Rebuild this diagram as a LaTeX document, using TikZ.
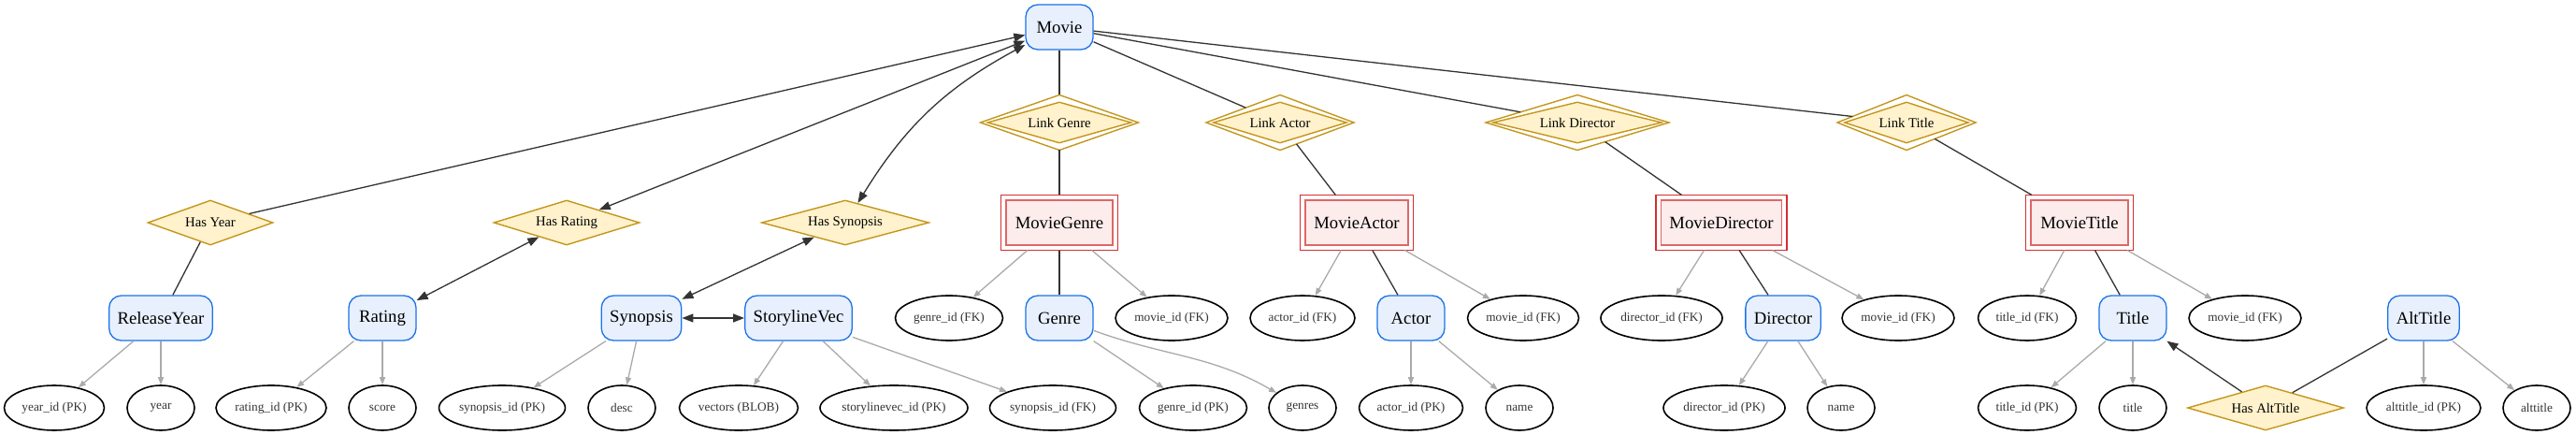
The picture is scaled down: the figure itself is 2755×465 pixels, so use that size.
\documentclass[tikz,border=0pt]{standalone}
\usepackage{fontspec}
\setmainfont{Liberation Serif}
\usetikzlibrary{shapes.geometric,arrows.meta,calc}
\definecolor{entfill}{HTML}{E8F0FE}
\definecolor{entdraw}{HTML}{1A73E8}
\definecolor{weakfill}{HTML}{FDECEC}
\definecolor{weakout}{HTML}{D32F2F}
\definecolor{weakin}{HTML}{E06666}
\definecolor{relfill}{HTML}{FFF2CC}
\definecolor{reldraw}{HTML}{C4961A}
\definecolor{darkedge}{HTML}{333333}
\definecolor{grayedge}{HTML}{AAAAAA}
\definecolor{attrtext}{HTML}{333333}
\tikzset{
  entity/.style={draw=entdraw, fill=entfill, line width=1.3pt, rounded corners=13pt,
    minimum width=72pt, minimum height=48pt, inner xsep=9pt, inner ysep=0pt,
    font=\fontsize{18.7}{22}\selectfont},
  weak/.style={draw=weakin, fill=weakfill, line width=1.6pt, minimum height=48pt,
    inner sep=0pt, outer sep=5.5pt, font=\fontsize{18.7}{22}\selectfont},
  weakouter/.style={draw=weakout, line width=1.4pt},
  attr/.style={ellipse, draw=black, line width=1.6pt, fill=white, minimum height=48pt,
    inner sep=0pt, text=attrtext, font=\fontsize{13.3}{15}\selectfont},
  rel/.style={diamond, aspect=3.2, draw=reldraw, fill=relfill, line width=1.4pt, minimum height=48pt,
    inner sep=0pt, font=\fontsize{14.7}{17}\selectfont},
  dbl/.style={rel, outer sep=5.5pt},
  dblouter/.style={draw=reldraw, line width=1.4pt},
  link/.style={draw=darkedge, line width=1.3pt},
  arr/.style={link, -{Triangle[length=12pt,width=9pt]}},
  barr/.style={link, {Triangle[length=12pt,width=9pt]}-{Triangle[length=12pt,width=9pt]}},
  gattr/.style={draw=grayedge, line width=1.3pt, -{Triangle[length=8pt,width=6pt]}},
}
\begin{document}
\begin{tikzpicture}[x=1pt,y=-1pt]
\useasboundingbox (0,0) rectangle (2755,465);
% top
\node[entity] (movie) at (1133,29) {Movie};
% link diamonds
\node[dbl, minimum width=158pt] (lgenre) at (1133,131) {Link Genre};
\node[dbl, minimum width=147pt] (lactor) at (1369,131) {Link Actor};
\node[dbl, minimum width=185pt] (ldir) at (1687,131) {Link Director};
\node[dbl, minimum width=137pt] (ltitle) at (2039,131) {Link Title};
\foreach \n in {lgenre,lactor,ldir,ltitle}
  \draw[dblouter] (\n.north) -- (\n.east) -- (\n.south) -- (\n.west) -- cycle;
% relationship diamonds
\node[rel, minimum width=134pt] (hasyear) at (225,238) {Has Year};
\node[rel, minimum width=156pt] (hasrating) at (606,238) {Has Rating};
\node[rel, minimum width=179pt] (hassyn) at (904,238) {Has Synopsis};
% weak entities
\node[weak, minimum width=114pt] (mgenre) at (1133,238) {MovieGenre};
\node[weak, minimum width=110pt] (mactor) at (1451,238) {MovieActor};
\node[weak, minimum width=129pt] (mdir) at (1841,238) {MovieDirector};
\node[weak, minimum width=104pt] (mtitle) at (2224,238) {MovieTitle};
\foreach \n in {mgenre,mactor,mdir,mtitle}
  \draw[weakouter] (\n.south west) rectangle (\n.north east);
% row 3
\node[entity] (ryear) at (172,340) {ReleaseYear};
\node[entity] (rating) at (409,340) {Rating};
\node[entity] (synopsis) at (686,340) {Synopsis};
\node[entity] (svec) at (854,340) {StorylineVec};
\node[attr, minimum width=115pt] (gfk) at (1015,340) {genre\_id (FK)};
\node[entity] (genre) at (1133,340) {Genre};
\node[attr, minimum width=120pt] (gmfk) at (1253,340) {movie\_id (FK)};
\node[attr, minimum width=112pt] (afk) at (1393,340) {actor\_id (FK)};
\node[entity] (actor) at (1509,340) {Actor};
\node[attr, minimum width=119pt] (amfk) at (1629,340) {movie\_id (FK)};
\node[attr, minimum width=130pt] (dfk) at (1777,340) {director\_id (FK)};
\node[entity] (director) at (1907,340) {Director};
\node[attr, minimum width=120pt] (dmfk) at (2030,340) {movie\_id (FK)};
\node[attr, minimum width=105pt] (tfk) at (2168,340) {title\_id (FK)};
\node[entity] (title) at (2281,340) {Title};
\node[attr, minimum width=120pt] (tmfk) at (2401,340) {movie\_id (FK)};
\node[entity] (alttitle) at (2592,340) {AltTitle};
% row 4
\node[attr, minimum width=107pt] (ypk) at (58,436) {year\_id (PK)};
\node[attr, minimum width=72pt] (year) at (172,436) {year};
\node[attr, minimum width=118pt] (rpk) at (290,436) {rating\_id (PK)};
\node[attr, minimum width=72pt] (score) at (409,436) {score};
\node[attr, minimum width=135pt] (spk) at (537,436) {synopsis\_id (PK)};
\node[attr, minimum width=72pt] (desc) at (665,436) {desc};
\node[attr, minimum width=127pt] (vblob) at (790,436) {vectors (BLOB)};
\node[attr, minimum width=158pt] (svpk) at (956,436) {storylinevec\_id (PK)};
\node[attr, minimum width=135pt] (sfk) at (1126,436) {synopsis\_id (FK)};
\node[attr, minimum width=115pt] (gpk) at (1276,436) {genre\_id (PK)};
\node[attr, minimum width=72pt] (genres) at (1393,436) {genres};
\node[attr, minimum width=111pt] (apk) at (1509,436) {actor\_id (PK)};
\node[attr, minimum width=72pt] (aname) at (1625,436) {name};
\node[attr, minimum width=130pt] (dpk) at (1844,436) {director\_id (PK)};
\node[attr, minimum width=72pt] (dname) at (1969,436) {name};
\node[attr, minimum width=105pt] (tpk) at (2168,436) {title\_id (PK)};
\node[attr, minimum width=72pt] (ttitle) at (2281,436) {title};
\node[rel, minimum width=167pt] (hasalt) at (2423,436) {Has AltTitle};
\node[attr, minimum width=122pt] (altpk) at (2592,436) {alttitle\_id (PK)};
\node[attr, minimum width=72pt] (alt) at (2713,436) {alttitle};
% dark connectors
\draw[arr] (hasyear) -- (movie);
\draw[barr] (hasrating) -- (movie);
\draw[barr] (hassyn) to[bend left=15] (movie);
\draw[link] (movie) -- (lgenre);
\draw[link] (movie) -- (lactor);
\draw[link] (movie) -- (ldir);
\draw[link] (movie) -- (ltitle);
\draw[link] (lgenre) -- (mgenre);
\draw[link] (lactor) -- (mactor);
\draw[link] (ldir) -- (mdir);
\draw[link] (ltitle) -- (mtitle);
\draw[link] (hasyear) -- (ryear);
\draw[barr] (hasrating) -- (rating);
\draw[barr] (hassyn) -- (synopsis);
\draw[barr] (synopsis) -- (svec);
\draw[link] (mgenre) -- (genre);
\draw[link] (mactor) -- (actor);
\draw[link] (mdir) -- (director);
\draw[link] (mtitle) -- (title);
\draw[arr] (hasalt) -- (title);
\draw[link] (alttitle) -- (hasalt);
% gray attribute connectors
\draw[gattr] (ryear) -- (ypk);
\draw[gattr] (ryear) -- (year);
\draw[gattr] (rating) -- (rpk);
\draw[gattr] (rating) -- (score);
\draw[gattr] (synopsis) -- (spk);
\draw[gattr] (synopsis) -- (desc);
\draw[gattr] (svec) -- (vblob);
\draw[gattr] (svec) -- (svpk);
\draw[gattr] (svec) -- (sfk);
\draw[gattr] (mgenre) -- (gfk);
\draw[gattr] (mgenre) -- (gmfk);
\draw[gattr] (genre) -- (gpk);
\draw[gattr] (genre) to[out=-20, in=150] (genres);
\draw[gattr] (mactor) -- (afk);
\draw[gattr] (mactor) -- (amfk);
\draw[gattr] (actor) -- (apk);
\draw[gattr] (actor) -- (aname);
\draw[gattr] (mdir) -- (dfk);
\draw[gattr] (mdir) -- (dmfk);
\draw[gattr] (director) -- (dpk);
\draw[gattr] (director) -- (dname);
\draw[gattr] (mtitle) -- (tfk);
\draw[gattr] (mtitle) -- (tmfk);
\draw[gattr] (title) -- (tpk);
\draw[gattr] (title) -- (ttitle);
\draw[gattr] (alttitle) -- (altpk);
\draw[gattr] (alttitle) -- (alt);
\end{tikzpicture}
\end{document}
